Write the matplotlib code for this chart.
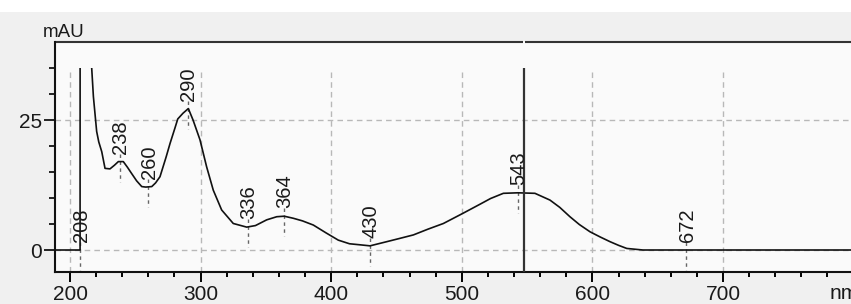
import matplotlib
matplotlib.use("Agg")
import matplotlib.pyplot as plt
import matplotlib.transforms as mtransforms
from matplotlib.patches import Rectangle
import numpy as np

# ---------------- data ----------------
wavelength = [189, 207.7, 208, 215.5, 216.6, 217.9, 220.4, 222, 224.3, 226.8,
              230.6, 234, 237, 240.8, 244, 247.2, 251, 254.9, 258, 262.6,
              265.5, 268.9, 273.6, 276.6, 280.4, 282.5, 286.5, 290.6, 294.2,
              299.5, 304.6, 309.7, 316.1, 325, 335.3, 342, 350.6, 358.3, 364,
              371, 378, 386.3, 396, 405.4, 414, 422, 429.7, 442.5, 452, 462.9,
              474, 485.9, 501.2, 513.9, 522, 531.8, 543, 556, 567.5, 575,
              582.8, 590, 598.2, 606, 613.5, 620, 626.3, 638.7, 651.8, 800]
absorbance = [0, 0, 300, 300, 35, 29.5, 22.8, 20.8, 18.9, 15.7,
              15.6, 16.3, 17.0, 17.0, 15.9, 14.7, 13.3, 12.2, 12.1, 12.2,
              12.9, 14.1, 17.9, 20.5, 23.5, 25.2, 26.3, 27.2, 25.0,
              21.2, 16.0, 11.5, 7.7, 5.1, 4.4, 4.7, 5.8, 6.4, 6.5,
              6.1, 5.6, 4.8, 3.3, 1.9, 1.2, 1.0, 0.8, 1.6, 2.2, 2.9,
              4.0, 5.1, 7.1, 8.8, 9.9, 10.9, 11.0, 10.9, 9.6, 8.2,
              6.4, 4.9, 3.5, 2.5, 1.6, 0.9, 0.3, 0.0, 0.0, 0.0]

peak_nm = [208, 238, 260, 290, 336, 364, 430, 543, 672]
peak_mau = [0, 17.0, 12.2, 27.2, 4.4, 6.5, 0.8, 11.0, 0.0]
peak_labels = ["208", "238", "260", "290", "336", "364", "430", "543", "672"]

cursor_nm = 547.6
x_major = [200, 300, 400, 500, 600, 700]
x_major_labels = ["200", "300", "400", "500", "600", "700"]
y_major = [0, 25]
y_major_labels = ["0", "25"]
y_minor = [5, 10, 15, 20, 30, 35]
display_max = 35

# ---------------- figure ----------------
W, H = 851, 304
DPI = 100
fig = plt.figure(figsize=(W / DPI, H / DPI), dpi=DPI, facecolor="#f0f0f0")
fig.patches.append(Rectangle((0, 1 - 12 / H), 1, 12 / H, transform=fig.transFigure,
                             facecolor="white", edgecolor="none", zorder=0))

xmin, xmax = 188.5, 800
ymin, ymax = -4.23, 40
ax = fig.add_axes([55 / W, (H - 272) / H, (853.6 - 55) / W, 230 / H])
ax.set_facecolor("#fafafa")
ax.set_xlim(xmin, xmax)
ax.set_ylim(ymin, ymax)

font = "Liberation Sans"
grid_color = "#b8b8b8"
dash = (0, (4, 3))

# grid
ax.vlines(x_major, ymin, display_max, colors=grid_color, linewidth=1.0,
          linestyles=[dash], zorder=1)
ax.hlines(y_major, xmin, xmax, colors=grid_color, linewidth=1.0,
          linestyles=[dash], zorder=1)

# spectrum
line, = ax.plot(wavelength, absorbance, color="#111111", lw=1.2, zorder=3)
clip = Rectangle((xmin, ymin), xmax - xmin, display_max - ymin, transform=ax.transData)
line.set_clip_path(clip)

# cursor
ax.vlines([cursor_nm], ymin, display_max, colors="#333333", linewidth=1.6, zorder=4)

# peak labels
px_per_unit = 230 / (ymax - ymin)
for p, h, lab in zip(peak_nm, peak_mau, peak_labels):
    ax.plot([p, p], [h + 8 / px_per_unit, h - 20 / px_per_unit], color="#666666",
            lw=1.0, linestyle=(0, (2.5, 2.5)), zorder=2)
    ax.annotate(lab, xy=(p, h), xytext=(1, 8), textcoords="offset pixels",
                rotation=90, ha="center", va="bottom", fontsize=14.5,
                family=font, color="#1a1a1a", zorder=5)

# spines
for s in ["left", "bottom"]:
    ax.spines[s].set_linewidth(1.5)
    ax.spines[s].set_color("#111111")
ax.spines["right"].set_visible(False)
ax.spines["top"].set_visible(False)
blend = mtransforms.blended_transform_factory(ax.transData, ax.transAxes)
gap = 1.0
ax.plot([xmin, cursor_nm - gap], [1, 1], transform=blend, color="#333333",
        lw=1.5, clip_on=False, solid_capstyle="butt")
ax.plot([cursor_nm + gap, xmax], [1, 1], transform=blend, color="#333333",
        lw=1.5, clip_on=False, solid_capstyle="butt")

# ticks
ax.set_xticks(x_major)
ax.set_xticklabels(x_major_labels, fontsize=15, family=font, color="#1a1a1a")
ax.set_xticks(np.arange(200, 800, 20), minor=True)
ax.set_yticks(y_major)
ax.set_yticklabels(y_major_labels, fontsize=15, family=font, color="#1a1a1a")
ax.set_yticks(y_minor, minor=True)
ax.tick_params(axis="x", which="major", direction="out", length=7.2, width=1.4, pad=2)
ax.tick_params(axis="x", which="minor", direction="out", length=3.6, width=1.4)
ax.tick_params(axis="y", which="major", direction="out", length=8.2, width=1.2, pad=1)
ax.tick_params(axis="y", which="minor", direction="out", length=4.3, width=1.2)

# units
ax.annotate("nm", xy=(781.9, 0), xycoords=blend, xytext=(0, -12),
            textcoords="offset pixels", ha="left", va="top", fontsize=15,
            family=font, color="#1a1a1a", annotation_clip=False)
fig.text(43 / W, 1 - 37 / H, "mAU", ha="left", va="baseline", fontsize=13.5,
         family=font, color="#1a1a1a")

fig.savefig("out.png", dpi=DPI, facecolor=fig.get_facecolor())
